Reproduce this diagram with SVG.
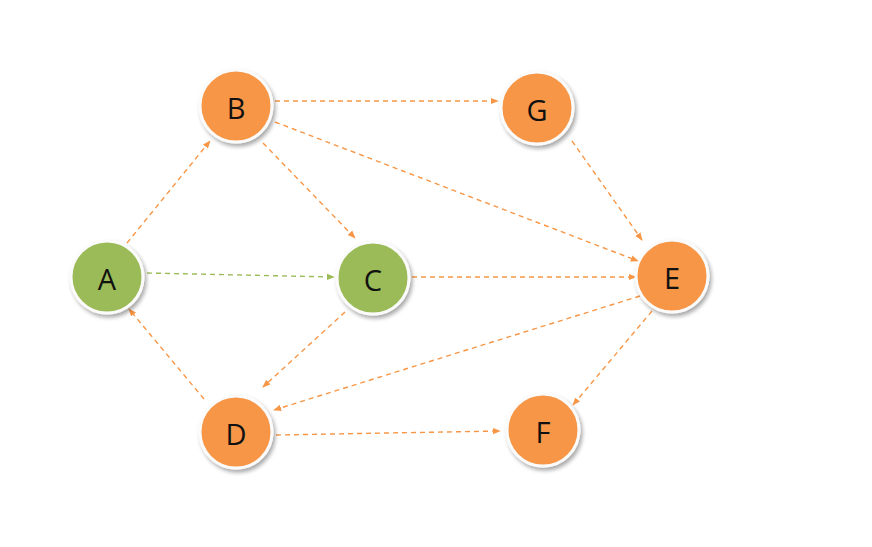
<svg xmlns="http://www.w3.org/2000/svg" width="872" height="547" viewBox="0 0 872 547">
<defs>
<marker id="ao" viewBox="0 0 10 10" refX="9" refY="5" markerWidth="8" markerHeight="8" orient="auto" markerUnits="userSpaceOnUse"><path d="M0,1 L10,5 L0,9 Z" fill="#F79646"/></marker>
<marker id="ag" viewBox="0 0 10 10" refX="9" refY="5" markerWidth="8" markerHeight="8" orient="auto" markerUnits="userSpaceOnUse"><path d="M0,1 L10,5 L0,9 Z" fill="#9BBB59"/></marker>
<filter id="sh" x="-30%" y="-30%" width="160%" height="160%"><feGaussianBlur in="SourceAlpha" stdDeviation="2"/><feOffset dx="1.5" dy="2.5"/><feComponentTransfer><feFuncA type="linear" slope="0.35"/></feComponentTransfer><feMerge><feMergeNode/><feMergeNode in="SourceGraphic"/></feMerge></filter>
</defs>
<style>
.e{fill:none;stroke:#F79646;stroke-width:1.4;stroke-dasharray:5,4;marker-end:url(#ao)}
.eg{fill:none;stroke:#9BBB59;stroke-width:1.4;stroke-dasharray:5,4;marker-end:url(#ag)}
.o{fill:#F79646;stroke:#FBFBFB;stroke-width:3;filter:url(#sh)}
.g{fill:#9BBB59;stroke:#FBFBFB;stroke-width:3;filter:url(#sh)}
text{font-family:"Open Sans","Liberation Sans",sans-serif;font-size:29px;fill:#111;text-anchor:middle;dominant-baseline:central}
</style>
<rect width="872" height="547" fill="#fff"/>
<g id="connectors">
<line class="e" x1="275" y1="101" x2="498" y2="101"/>
<line class="e" x1="275" y1="122" x2="638" y2="261"/>
<line class="e" x1="263" y1="143" x2="355" y2="238"/>
<line class="e" x1="572" y1="141" x2="642" y2="240"/>
<line class="e" x1="127" y1="243" x2="210" y2="141"/>
<line class="eg" x1="147" y1="273" x2="334" y2="277"/>
<line class="e" x1="412" y1="277" x2="636" y2="277"/>
<line class="e" x1="345" y1="312" x2="263" y2="387"/>
<line class="e" x1="640" y1="296" x2="274" y2="410"/>
<line class="e" x1="652" y1="311" x2="573" y2="405"/>
<line class="e" x1="204" y1="399" x2="129" y2="309"/>
<line class="e" x1="276" y1="435" x2="500" y2="431"/>
</g>
<g id="A"><circle class="g" cx="107" cy="277" r="36"/><text x="107" y="278">A</text></g>
<g id="B"><circle class="o" cx="236" cy="106" r="36"/><text x="236" y="107">B</text></g>
<g id="C"><circle class="g" cx="373" cy="278" r="36"/><text x="373" y="279">C</text></g>
<g id="G"><circle class="o" cx="537" cy="108" r="36"/><text x="537" y="109">G</text></g>
<g id="E"><circle class="o" cx="672" cy="276" r="36"/><text x="672" y="277">E</text></g>
<g id="D"><circle class="o" cx="236" cy="432" r="36"/><text x="236" y="433">D</text></g>
<g id="F"><circle class="o" cx="543" cy="430" r="36"/><text x="543" y="431">F</text></g>
</svg>
